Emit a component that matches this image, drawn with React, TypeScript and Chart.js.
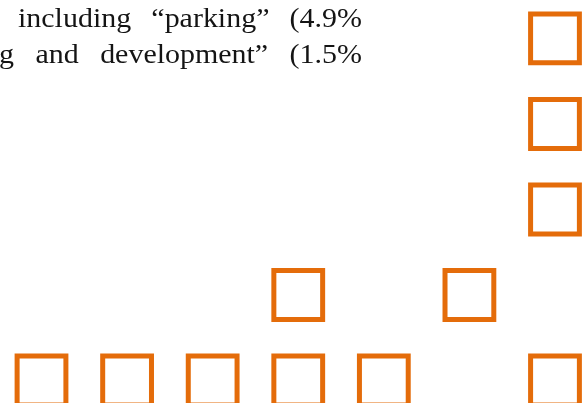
import React, { useEffect, useRef } from "react";
import { Chart, registerables } from "chart.js";

Chart.register(...registerables);

// Grid position of each square (column from left, row from bottom)
const colIndex = [0, 1, 2, 3, 3, 4, 5, 6, 6, 6, 6];
const rowIndex = [0, 0, 0, 0, 1, 0, 1, 0, 2, 3, 4];

// Text fragment at top-left
const textLines = ["including \u201cparking\u201d (4.9%", "g and development\u201d (1.5%"];

const ORANGE = "#E46C0A";

const justifiedText = {
  id: "justifiedText",
  afterDraw(chart: any) {
    const ctx = chart.ctx;
    ctx.save();
    ctx.font = "28px 'Liberation Serif', 'DejaVu Serif', serif";
    ctx.fillStyle = "#141414";
    ctx.textBaseline = "alphabetic";
    const stretch = 1.07;
    const lefts = [18, -1];
    const right = 362;
    const baselines = [27, 63];
    textLines.forEach((line, i) => {
      const words = line.split(" ");
      const widths = words.map((w) => ctx.measureText(w).width * stretch);
      const total = widths.reduce((a, b) => a + b, 0);
      const gap = (right - lefts[i] - total) / (words.length - 1);
      let x = lefts[i];
      words.forEach((w, k) => {
        ctx.save();
        ctx.translate(x, baselines[i]);
        ctx.scale(stretch, 1);
        ctx.fillText(w, 0, 0);
        ctx.restore();
        x += widths[k] + gap;
      });
    });
    ctx.restore();
  },
};

export default function App() {
  const ref = useRef<HTMLCanvasElement>(null);
  useEffect(() => {
    document.body.style.margin = "0";
    const canvas = ref.current!;
    const chart = new Chart(canvas, {
      type: "scatter",
      data: {
        datasets: [
          {
            data: colIndex.map((c, i) => ({ x: c, y: rowIndex[i] })),
            pointStyle: "rect",
            pointRadius: 34.5,
            pointHoverRadius: 34.5,
            pointBorderWidth: 5,
            pointBorderColor: ORANGE,
            pointBackgroundColor: "rgba(255,255,255,0)",
            clip: false as any,
          },
        ],
      },
      options: {
        animation: false,
        responsive: false,
        events: [],
        layout: { padding: 0, autoPadding: false },
        plugins: { legend: { display: false }, tooltip: { enabled: false }, title: { display: false } },
        scales: {
          x: { type: "linear", min: -0.485, max: 6.339, display: false },
          y: { type: "linear", min: -0.263, max: 4.45, display: false },
        },
      },
      plugins: [justifiedText],
    });
    return () => chart.destroy();
  }, []);
  return (
    <div style={{ width: 584, height: 403, background: "#fff" }}>
      <canvas ref={ref} width={584} height={403} style={{ display: "block" }} />
    </div>
  );
}
